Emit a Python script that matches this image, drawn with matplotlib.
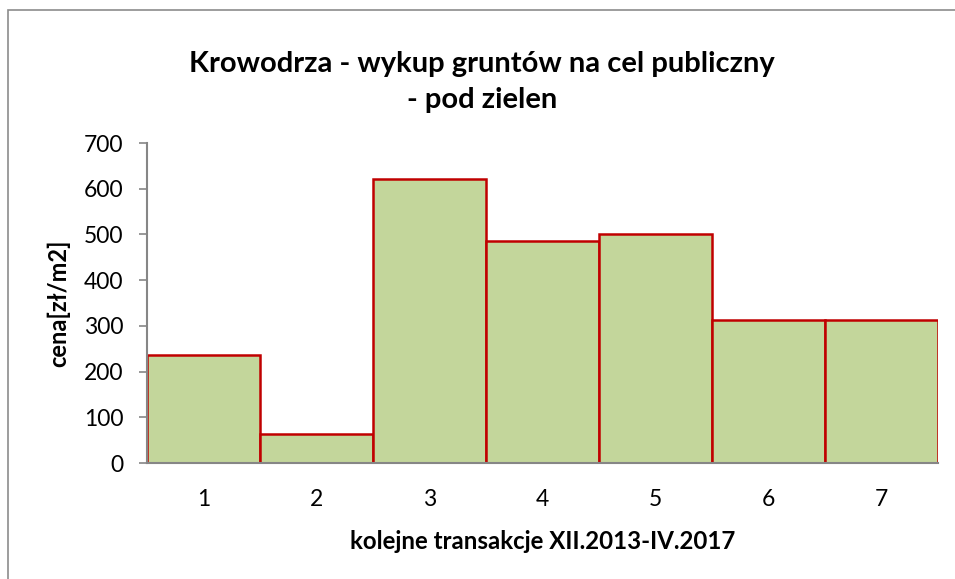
import matplotlib
matplotlib.use("Agg")
import matplotlib.pyplot as plt
from matplotlib.patches import Rectangle

categories = ["1", "2", "3", "4", "5", "6", "7"]
values = [237, 63, 621, 486, 502, 313, 313]
yticks = [0, 100, 200, 300, 400, 500, 600, 700]

title = "Krowodrza - wykup gruntów na cel publiczny\n- pod zielen"
xlabel = "kolejne transakcje XII.2013-IV.2017"
ylabel = "cena[zł/m2]"

plt.rcParams['font.family'] = ['Lato', 'DejaVu Sans']

fig = plt.figure(figsize=(9.55, 5.79), dpi=100)
fig.patches.append(Rectangle((8/955, -0.1), 1.2, (579-10)/579 + 0.1,
                             transform=fig.transFigure, fill=False,
                             edgecolor='#8c8c8c', linewidth=1.2))

ax = fig.add_axes([147/955, (579-463)/579, 791/955, 320/579])
x = list(range(1, len(categories) + 1))
ax.bar(x, values, width=1.0, color='#C3D69B', edgecolor='#C00000', linewidth=1.8)
ax.set_xlim(0.5, len(categories) + 0.5)
ax.set_ylim(0, 700)
ax.set_yticks(yticks)
ax.set_xticks(x)
ax.set_xticklabels(categories)
for s in ['top', 'right']:
    ax.spines[s].set_visible(False)
for s in ['left', 'bottom']:
    ax.spines[s].set_color('#868686')
    ax.spines[s].set_linewidth(1.5)
ax.tick_params(axis='y', direction='out', length=6, width=1.2, color='#868686', labelsize=16.5, pad=11)
ax.tick_params(axis='x', length=0, labelsize=16.5, pad=19)

ax.set_xlabel(xlabel, fontsize=17.3, fontweight='bold', labelpad=14)
ax.set_ylabel(ylabel, fontsize=17, fontweight='bold', labelpad=10)
fig.text(0.505, 1 - 82/579, title, ha='center', va='center', fontsize=21,
         fontweight='bold', linespacing=1.45)

fig.savefig("out.png", dpi=100)
